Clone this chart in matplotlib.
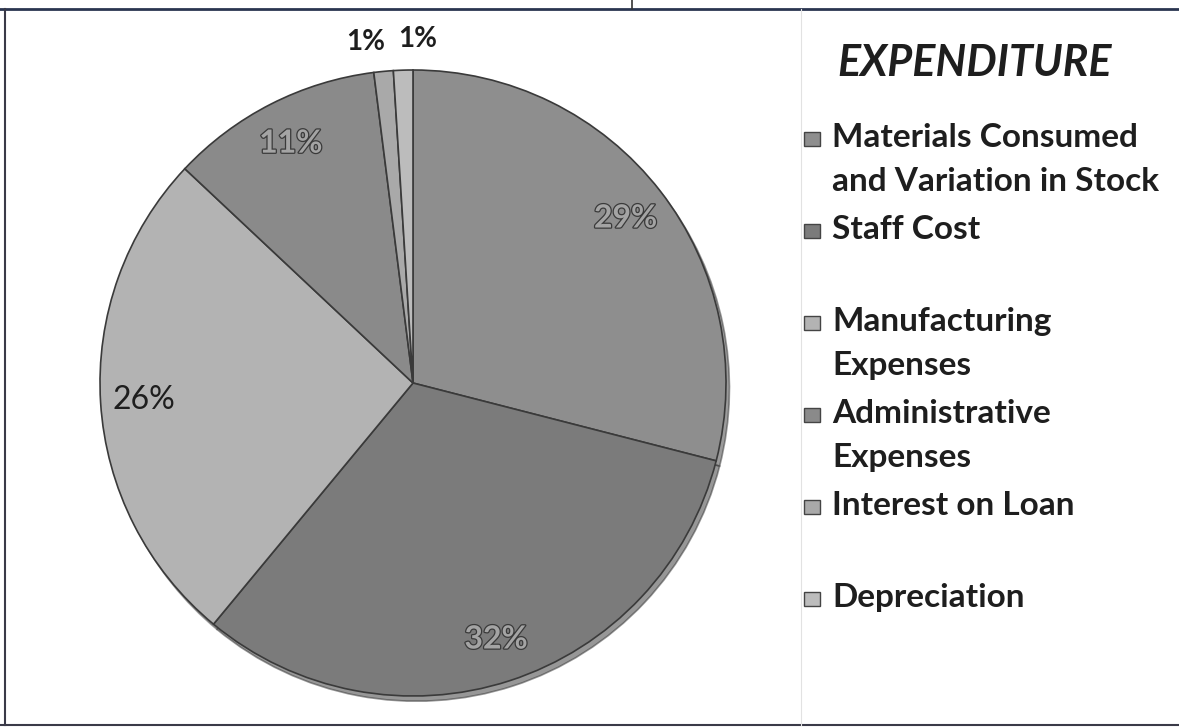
import numpy as np
import matplotlib.pyplot as plt
import matplotlib.patheffects as pe
from matplotlib.lines import Line2D
from matplotlib.patches import Rectangle

# data
categories = ['Materials Consumed\nand Variation in Stock', 'Staff Cost',
              'Manufacturing\nExpenses', 'Administrative\nExpenses',
              'Interest on Loan', 'Depreciation']
shares = [29, 32, 26, 11, 1, 1]
colors = ['#8e8e8e', '#7b7b7b', '#b3b3b3', '#8a8a8a', '#a9a9a9', '#bcbcbc']
title = 'EXPENDITURE'

plt.rcParams['font.family'] = ['Lato', 'DejaVu Sans']

W, H = 1179, 727
fig = plt.figure(figsize=(W / 100, H / 100), dpi=100)

# pie placed by centre / radius in pixels
cx, cy, r = 413, 383, 313
ax = fig.add_axes([(cx - r) / W, (H - cy - r) / H, 2 * r / W, 2 * r / H])
wedges, _ = ax.pie(shares, colors=colors, startangle=90, counterclock=False,
                   radius=1, wedgeprops=dict(edgecolor='#3a3a3a', linewidth=1.2),
                   shadow=dict(ox=0.008, oy=-0.012, shade=0.6))
ax.set_xlim(-1.0, 1.0)
ax.set_ylim(-1.0, 1.0)
ax.axis('off')

# percentage labels
small = 0
for w, v in zip(wedges, shares):
    mid = np.deg2rad((w.theta1 + w.theta2) / 2)
    if v >= 5:
        x, y = 0.86 * np.cos(mid), 0.86 * np.sin(mid)
        if v == 26:
            ax.text(x, y, f'{v}%', ha='center', va='center', fontsize=23, color='#1e1e1e')
        else:
            ax.text(x, y, f'{v}%', ha='center', va='center', fontsize=23,
                    fontweight='bold', color='#a4a4a4',
                    path_effects=[pe.withStroke(linewidth=1.8, foreground='#3a3a3a')])
    else:
        # the two 1% labels sit just outside, pushed apart
        mid = mid + np.deg2rad(2.5 if small == 0 else -2.5)
        small += 1
        ax.text(1.10 * np.cos(mid), 1.10 * np.sin(mid), f'{v}%', ha='center', va='center',
                fontsize=20, fontweight='bold', color='#1e1e1e')

# legend on the right, drawn by hand to keep the scan's spacing
fig.text(975 / W, 1 - 63 / H, title, ha='center', va='center', fontsize=31,
         fontweight='bold', fontstyle='italic', color='#1e1e1e')
step = 92
for i, (lab, col) in enumerate(zip(categories, colors)):
    base = 147 + i * step
    for j, line in enumerate(lab.split('\n')):
        fig.text(832 / W, 1 - (base + j * 44) / H, line, ha='left', va='baseline',
                 fontsize=24, fontweight='bold', color='#1e1e1e')
    fig.add_artist(Rectangle((804 / W, 1 - (base - 1) / H), 16 / W, 14 / H,
                             transform=fig.transFigure, facecolor=col,
                             edgecolor='#444444', linewidth=1.0))

# frame lines of the scanned table
fig.add_artist(Line2D([0, 1], [1 - 9 / H, 1 - 9 / H], color='#2a3550', linewidth=2))
fig.add_artist(Line2D([5 / W, 5 / W], [1 - 9 / H, 1 - 725 / H], color='#3a3a48', linewidth=1.5))
fig.add_artist(Line2D([0, 1], [1 - 725 / H, 1 - 725 / H], color='#3a3a48', linewidth=1.5))
fig.add_artist(Line2D([632 / W, 632 / W], [1, 1 - 9 / H], color='#333333', linewidth=1.2))
fig.add_artist(Line2D([801 / W, 801 / W], [1 - 9 / H, 1 - 725 / H], color='#e2e2e2', linewidth=0.8))

fig.savefig('out.png', dpi=100)
